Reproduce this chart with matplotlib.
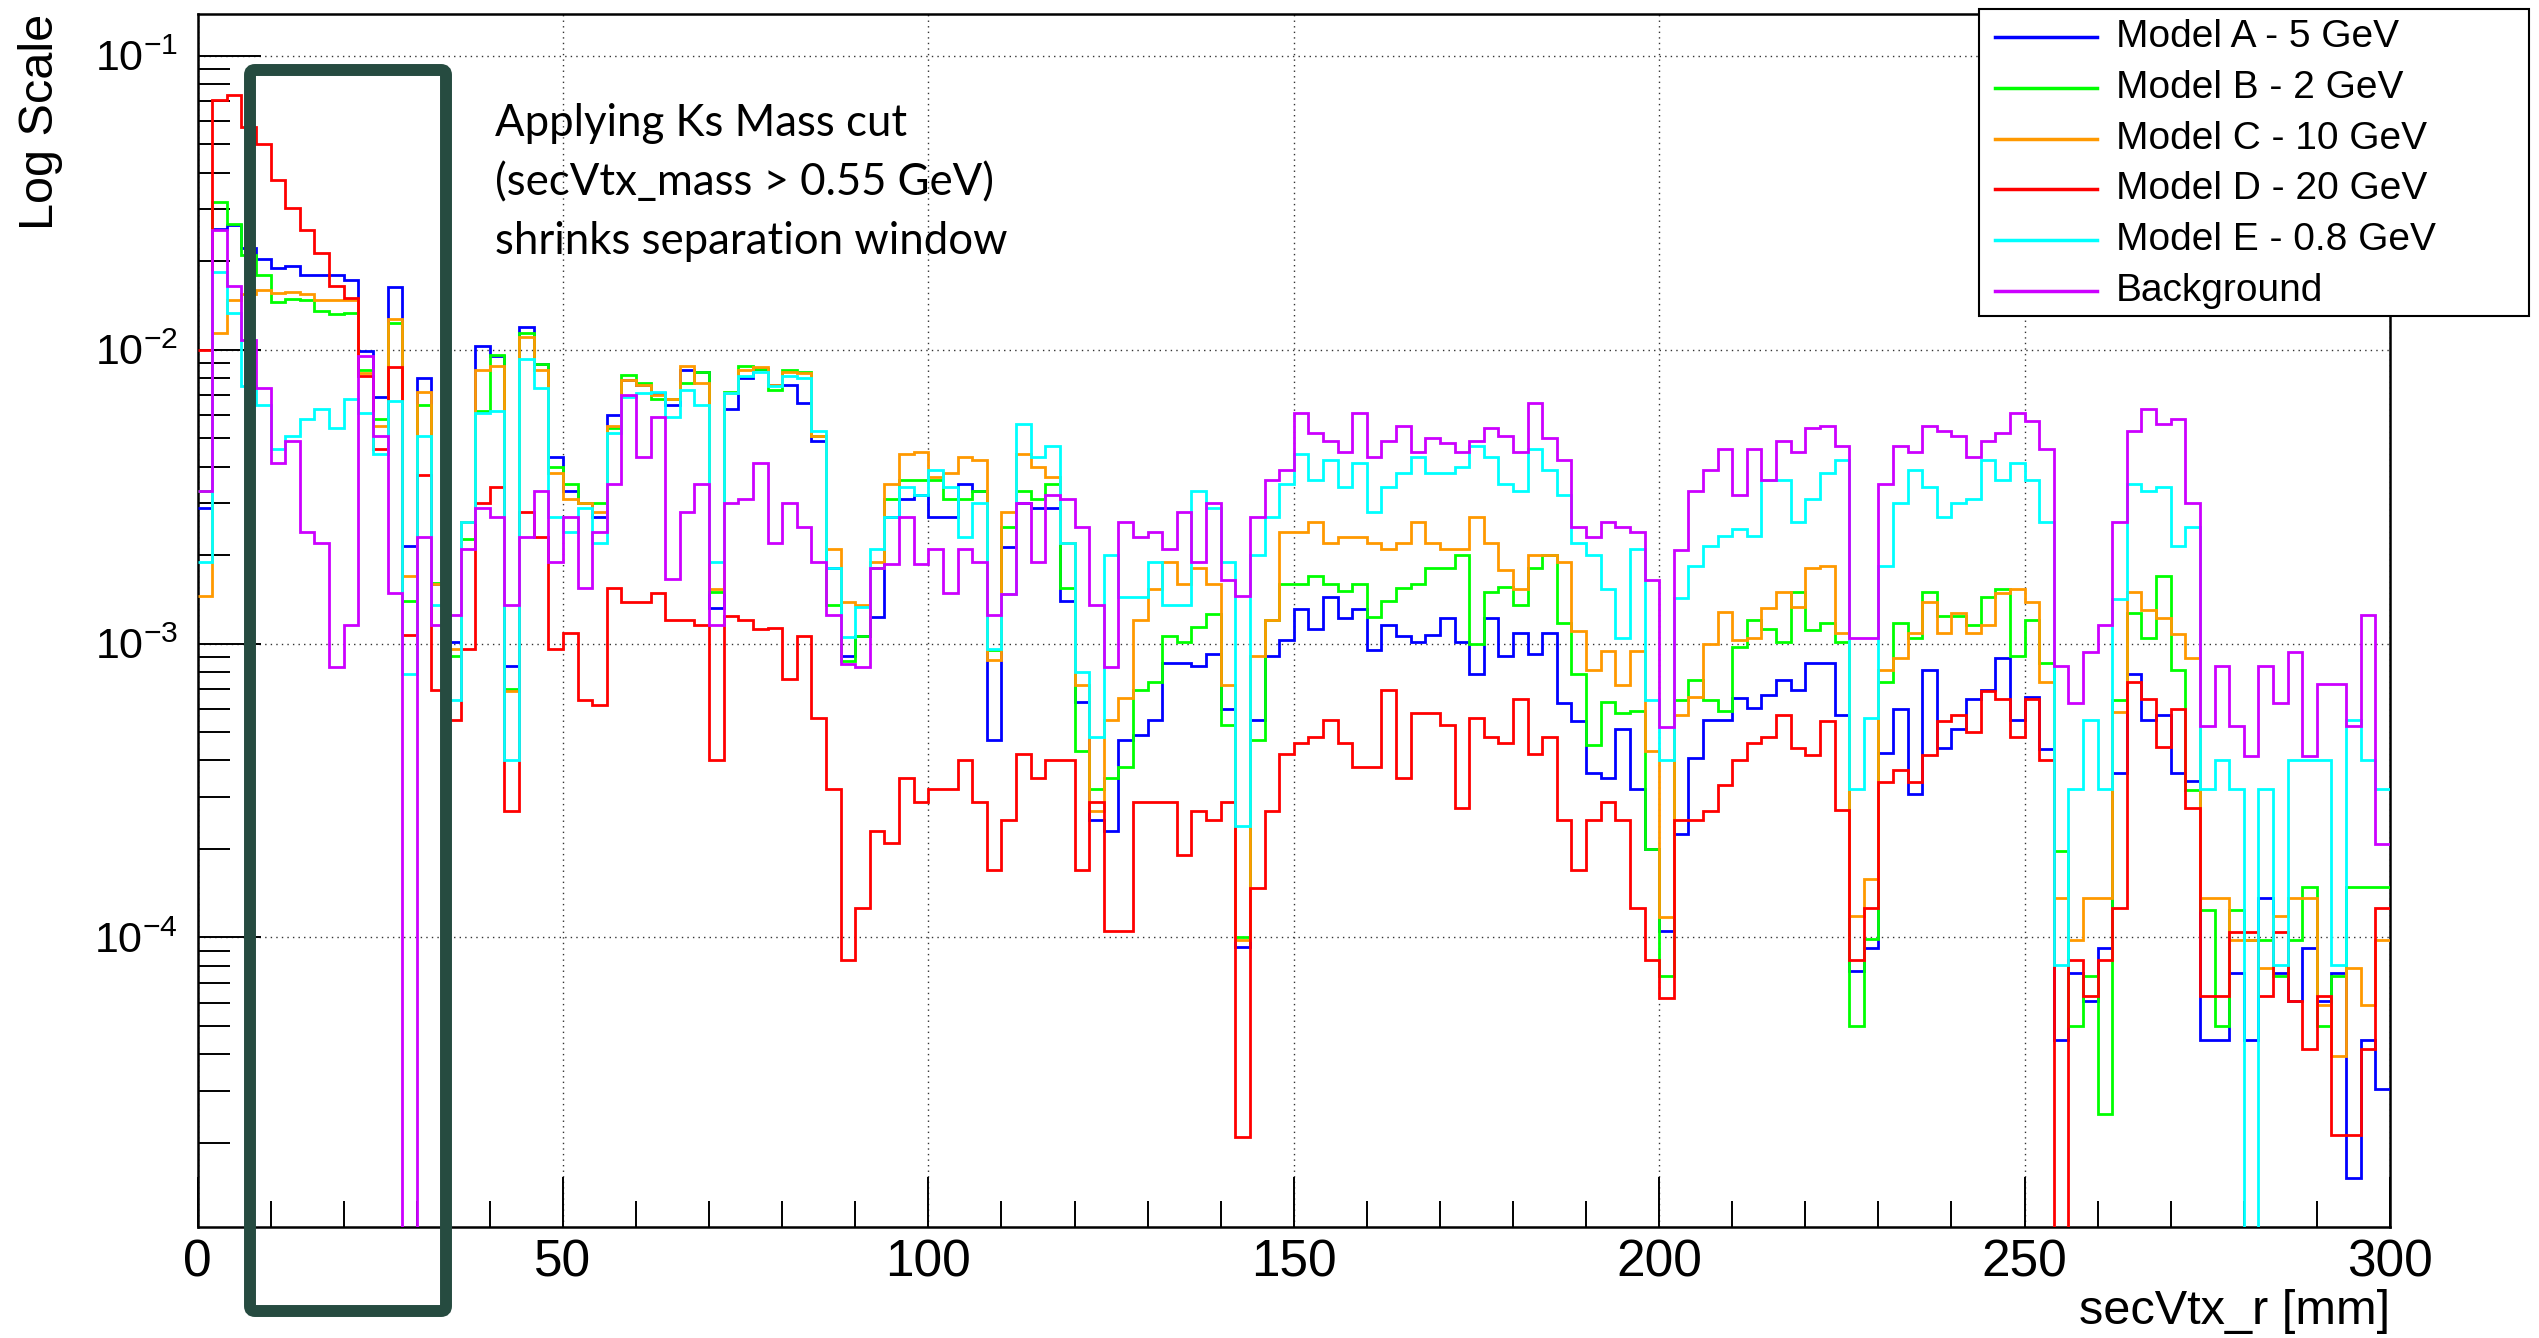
import numpy as np
import matplotlib
matplotlib.use('Agg')
import matplotlib.pyplot as plt
from matplotlib.ticker import MultipleLocator, LogLocator, NullFormatter
from matplotlib.patches import FancyBboxPatch, Rectangle
from matplotlib.lines import Line2D

plt.rcParams['font.family'] = ['Liberation Sans', 'DejaVu Sans']

# 150 bins of 2 mm, 0 - 300 mm
bin_edges = np.arange(0, 302, 2)

model_a = [
    2.9e-3, 0.0258, 0.0265, 0.0222, 0.0203, 0.0190, 0.0193, 0.0179, 0.0179, 0.0179,
    0.0173, 0.0099, 0.0069, 0.0163, 0.00214, 0.0080, 0.0016, 0.00101, 0.0026, 0.0103,
    0.0095, 8.4e-4, 0.0119, 0.0089, 0.0043, 0.0033, 0.0030, 0.0027, 0.0060, 0.0079,
    0.0076, 0.0071, 0.0065, 0.0085, 0.0084, 0.00132, 0.0063, 0.0080, 0.0086, 0.0076,
    0.0076, 0.0066, 0.0049, 0.0018, 9.1e-4, 0.00106, 0.00123, 0.0027, 0.0031, 0.0032,
    0.0027, 0.0027, 0.0035, 0.0033, 4.7e-4, 0.00213, 0.0030, 0.0029, 0.0029, 0.0014,
    6.3e-4, 2.5e-4, 2.3e-4, 4.7e-4, 4.9e-4, 5.5e-4, 8.6e-4, 8.6e-4, 8.4e-4, 9.2e-4,
    6.0e-4, 9.3e-5, 5.5e-4, 9.1e-4, 0.00103, 0.00131, 0.00112, 0.00144, 0.00122, 0.00131,
    9.5e-4, 0.00116, 0.00106, 0.00101, 0.00107, 0.00122, 0.00101, 7.9e-4, 0.00122, 9.1e-4,
    0.00109, 9.2e-4, 0.00109, 6.25e-4, 5.46e-4, 3.63e-4, 3.48e-4, 5.13e-4, 3.2e-4, 2.0e-4,
    1.05e-4, 2.25e-4, 4.07e-4, 5.5e-4, 5.5e-4, 6.5e-4, 6.05e-4, 6.7e-4, 7.5e-4, 6.95e-4,
    8.6e-4, 8.6e-4, 5.7e-4, 7.7e-5, 9.2e-5, 4.24e-4, 5.98e-4, 3.07e-4, 8.1e-4, 4.4e-4,
    5.13e-4, 6.45e-4, 6.95e-4, 8.9e-4, 5.5e-4, 6.6e-4, 4.37e-4, 4.48e-5, 7.57e-5, 6.07e-5,
    9.2e-5, 3.63e-4, 7.9e-4, 5.5e-4, 5.7e-4, 3.63e-4, 3.4e-4, 4.48e-5, 4.48e-5, 7.57e-5,
    4.48e-5, 1.36e-4, 7.57e-5, 6.07e-5, 9.2e-5, 6.07e-5, 7.57e-5, 1.52e-5, 4.48e-5, 3.04e-5,
]

model_b = [
    3.3e-3, 0.0318, 0.0267, 0.0209, 0.0179, 0.0145, 0.0149, 0.0148, 0.0135, 0.0132,
    0.0133, 0.0085, 0.0058, 0.0123, 0.0014, 0.0065, 0.00161, 9.1e-4, 0.00226, 0.0062,
    0.0096, 7.0e-4, 0.0114, 0.0089, 0.0040, 0.0035, 0.0030, 0.0030, 0.0054, 0.0082,
    0.0077, 0.0068, 0.0068, 0.0077, 0.0084, 0.0015, 0.0072, 0.0088, 0.0086, 0.0073,
    0.0085, 0.0084, 0.0051, 0.00135, 8.7e-4, 0.00106, 0.00181, 0.0031, 0.0036, 0.0036,
    0.0036, 0.0031, 0.0031, 0.0033, 9.5e-4, 0.0025, 0.0033, 0.0031, 0.0035, 0.00155,
    4.3e-4, 3.2e-4, 3.5e-4, 3.8e-4, 6.95e-4, 7.4e-4, 0.00106, 0.00101, 0.00114, 0.00126,
    5.3e-4, 1.0e-4, 4.7e-4, 0.0012, 0.0016, 0.0016, 0.0017, 0.0016, 0.00151, 0.0016,
    0.00123, 0.0014, 0.00155, 0.0016, 0.0018, 0.0018, 0.0020, 0.0010, 0.0015, 0.00156,
    0.00135, 0.0018, 0.0020, 0.00117, 7.9e-4, 4.5e-4, 6.3e-4, 5.8e-4, 5.9e-4, 2.0e-4,
    7.4e-5, 6.4e-4, 7.5e-4, 6.4e-4, 5.9e-4, 9.7e-4, 1.2e-3, 1.12e-3, 0.00101, 0.0015,
    0.00111, 0.00117, 0.00101, 4.98e-5, 9.9e-5, 7.4e-4, 0.00117, 0.00104, 0.0015, 0.00124,
    0.00124, 0.00116, 0.00144, 0.00153, 9.06e-4, 0.0012, 8.6e-4, 1.97e-4, 4.98e-5, 7.4e-5,
    2.5e-5, 6.4e-4, 0.00127, 0.00104, 0.0017, 8.1e-4, 3.17e-4, 1.24e-4, 4.98e-5, 1.24e-4,
    9.8e-5, 9.8e-5, 7.4e-5, 9.8e-5, 1.49e-4, 4.98e-5, 7.4e-5, 1.49e-4, 1.49e-4, 1.49e-4,
]

model_c = [
    1.45e-3, 0.0114, 0.0148, 0.0155, 0.0159, 0.0156, 0.0157, 0.0155, 0.0148, 0.0148,
    0.0147, 0.0083, 0.0055, 0.0127, 0.0017, 0.0072, 0.0016, 9.6e-4, 0.0026, 0.0085,
    0.0088, 6.9e-4, 0.0110, 0.0085, 0.0038, 0.0031, 0.0030, 0.0028, 0.0055, 0.0079,
    0.0076, 0.0070, 0.0068, 0.0088, 0.0077, 0.00153, 0.0071, 0.0085, 0.0087, 0.0076,
    0.0084, 0.0083, 0.0051, 0.0021, 0.00138, 0.00135, 0.0019, 0.0035, 0.0044, 0.0045,
    0.0037, 0.0038, 0.0043, 0.0042, 8.8e-4, 0.0028, 0.0044, 0.0040, 0.0037, 0.0022,
    7.2e-4, 2.7e-4, 5.5e-4, 6.5e-4, 0.0012, 0.00153, 0.0019, 0.0016, 0.0018, 0.0016,
    7.2e-4, 9.8e-5, 9.1e-4, 0.0012, 0.0024, 0.0024, 0.0026, 0.0022, 0.0023, 0.0023,
    0.0022, 0.0021, 0.0022, 0.0026, 0.0022, 0.0021, 0.0021, 0.0027, 0.0022, 0.00178,
    0.00153, 0.0020, 0.0020, 0.0019, 0.0011, 8.1e-4, 9.4e-4, 7.2e-4, 9.4e-4, 4.3e-4,
    1.17e-4, 5.7e-4, 6.6e-4, 1.0e-3, 1.28e-3, 1.03e-3, 1.04e-3, 1.32e-3, 0.0015, 0.00133,
    0.00181, 0.00184, 0.00109, 1.18e-4, 1.58e-4, 8.1e-4, 8.9e-4, 0.00109, 0.00138, 0.00109,
    0.00127, 0.00109, 0.00116, 0.00149, 0.00153, 0.00138, 7.4e-4, 1.36e-4, 9.8e-5, 1.36e-4,
    1.36e-4, 5.87e-4, 0.0015, 0.0013, 0.00122, 0.00108, 8.9e-4, 1.36e-4, 1.36e-4, 9.8e-5,
    9.8e-5, 7.9e-5, 1.18e-4, 1.36e-4, 1.36e-4, 5.9e-5, 3.94e-5, 7.9e-5, 5.9e-5, 9.8e-5,
]

model_d = [
    0.0100, 0.0706, 0.0734, 0.0572, 0.0499, 0.0378, 0.0303, 0.0255, 0.0213, 0.0164,
    0.0150, 0.0081, 0.0046, 0.0087, 0.00107, 0.00375, 6.95e-4, 5.5e-4, 9.6e-4, 0.0030,
    0.0034, 2.7e-4, 0.0028, 0.0023, 9.6e-4, 0.00109, 6.4e-4, 6.2e-4, 0.00155, 0.00138,
    0.00138, 0.00149, 0.0012, 0.0012, 0.00116, 4.0e-4, 0.00124, 0.0012, 0.00112, 0.00113,
    7.6e-4, 0.00106, 5.6e-4, 3.2e-4, 8.4e-5, 1.26e-4, 2.3e-4, 2.1e-4, 3.5e-4, 2.9e-4,
    3.2e-4, 3.2e-4, 4.0e-4, 2.9e-4, 1.7e-4, 2.5e-4, 4.2e-4, 3.5e-4, 4.0e-4, 4.0e-4,
    1.7e-4, 2.9e-4, 1.05e-4, 1.05e-4, 2.9e-4, 2.9e-4, 2.9e-4, 1.9e-4, 2.7e-4, 2.5e-4,
    2.9e-4, 2.1e-5, 1.47e-4, 2.7e-4, 4.2e-4, 4.6e-4, 4.8e-4, 5.5e-4, 4.6e-4, 3.8e-4,
    3.8e-4, 6.95e-4, 3.5e-4, 5.8e-4, 5.8e-4, 5.3e-4, 2.75e-4, 5.6e-4, 4.8e-4, 4.6e-4,
    6.45e-4, 4.2e-4, 4.8e-4, 2.5e-4, 1.7e-4, 2.5e-4, 2.9e-4, 2.5e-4, 1.26e-4, 8.4e-5,
    6.2e-5, 2.5e-4, 2.5e-4, 2.7e-4, 3.3e-4, 4.0e-4, 4.6e-4, 4.8e-4, 5.7e-4, 4.4e-4,
    4.18e-4, 5.46e-4, 2.72e-4, 8.4e-5, 1.26e-4, 3.38e-4, 3.7e-4, 3.38e-4, 4.18e-4, 5.46e-4,
    5.7e-4, 5.0e-4, 6.9e-4, 6.45e-4, 4.8e-4, 6.45e-4, 4.0e-4, 0.0, 8.4e-5, 6.3e-5,
    8.4e-5, 1.26e-4, 7.4e-4, 6.45e-4, 4.46e-4, 6.0e-4, 2.75e-4, 6.3e-5, 6.3e-5, 1.04e-4,
    1.04e-4, 6.3e-5, 1.04e-4, 6.07e-5, 4.18e-5, 6.3e-5, 2.13e-5, 2.13e-5, 4.18e-5, 1.26e-4,
]

model_e = [
    1.9e-3, 0.0183, 0.0133, 0.0075, 0.0065, 0.0046, 0.0051, 0.0058, 0.0063, 0.0054,
    0.0068, 0.0061, 0.0044, 0.0067, 7.9e-4, 0.0051, 0.00135, 6.4e-4, 0.0026, 0.0061,
    0.0062, 4.0e-4, 0.0093, 0.0074, 0.0027, 0.0024, 0.0029, 0.0022, 0.0052, 0.0069,
    0.0071, 0.0072, 0.0059, 0.0073, 0.0065, 0.0019, 0.0071, 0.0081, 0.0084, 0.0075,
    0.0081, 0.0080, 0.0053, 0.0018, 0.00105, 0.00133, 0.0021, 0.0027, 0.0034, 0.0032,
    0.0039, 0.0034, 0.0023, 0.0030, 9.6e-4, 0.00147, 0.0056, 0.0043, 0.0047, 0.0022,
    8.0e-4, 4.8e-4, 0.0020, 0.00144, 0.00144, 0.0019, 0.00135, 0.00135, 0.0033, 0.0029,
    0.0019, 2.4e-4, 0.0020, 0.0027, 0.0035, 0.0044, 0.0036, 0.0042, 0.0034, 0.0041,
    0.0028, 0.0034, 0.0038, 0.0043, 0.0038, 0.0038, 0.0040, 0.0047, 0.0043, 0.0035,
    0.0033, 0.0046, 0.0039, 0.0032, 0.0022, 0.0020, 0.00153, 0.00104, 0.0021, 6.4e-4,
    4.0e-4, 1.43e-3, 1.84e-3, 0.00215, 0.00232, 0.00245, 0.00232, 0.0036, 0.0036, 0.0026,
    0.0031, 0.0038, 0.0042, 3.21e-4, 5.6e-4, 0.00184, 0.0030, 0.0039, 0.0034, 0.0027,
    0.0030, 0.0031, 0.0042, 0.0036, 0.0041, 0.0036, 0.0026, 8.05e-5, 3.21e-4, 5.5e-4,
    3.21e-4, 0.00142, 0.0035, 0.0033, 0.0034, 0.00215, 0.0025, 3.2e-4, 4.0e-4, 3.2e-4,
    0.0, 3.2e-4, 8.05e-5, 4.0e-4, 4.0e-4, 4.0e-4, 8.05e-5, 5.5e-4, 4.0e-4, 3.2e-4,
]

background = [
    3.3e-3, 0.0255, 0.0164, 0.0108, 0.0074, 0.0041, 0.0049, 0.0024, 0.0022, 8.3e-4,
    0.00116, 0.0095, 0.0051, 0.00148, 0.0, 0.0023, 0.00116, 0.00125, 0.0021, 0.0029,
    0.0027, 0.00135, 0.0023, 0.0033, 0.0019, 0.0027, 0.00155, 0.0024, 0.0035, 0.0070,
    0.0043, 0.0059, 0.00166, 0.0028, 0.0035, 0.00116, 0.0030, 0.0031, 0.0041, 0.0022,
    0.0030, 0.0025, 0.0019, 0.00125, 8.5e-4, 8.3e-4, 0.0018, 0.00186, 0.0027, 0.00186,
    0.0021, 0.00148, 0.0021, 0.0019, 0.00125, 0.00147, 0.0030, 0.0019, 0.0032, 0.0031,
    0.0025, 0.00135, 8.3e-4, 0.0026, 0.0023, 0.0024, 0.0021, 0.0028, 0.0019, 0.0030,
    0.00165, 0.00145, 0.0027, 0.0036, 0.0039, 0.0061, 0.0052, 0.0049, 0.0045, 0.0061,
    0.0043, 0.0049, 0.0055, 0.0045, 0.0050, 0.0048, 0.0045, 0.0049, 0.0054, 0.0051,
    0.0045, 0.0066, 0.0050, 0.0042, 0.0025, 0.0023, 0.0026, 0.0025, 0.0024, 0.00165,
    5.2e-4, 0.00208, 0.0033, 0.0039, 0.0046, 0.0032, 0.0046, 0.0036, 0.0049, 0.0045,
    0.0054, 0.0055, 0.0047, 0.00104, 0.00104, 0.0035, 0.0047, 0.0045, 0.0055, 0.0053,
    0.0051, 0.0043, 0.0049, 0.0052, 0.0061, 0.0057, 0.0046, 8.4e-4, 6.25e-4, 9.35e-4,
    0.00116, 0.0026, 0.0053, 0.0063, 0.0056, 0.0058, 0.0030, 5.26e-4, 8.4e-4, 5.26e-4,
    4.15e-4, 8.4e-4, 6.25e-4, 9.35e-4, 4.15e-4, 7.3e-4, 7.3e-4, 5.26e-4, 0.00125, 2.08e-4,
]

labels = ['Model A - 5 GeV', 'Model B - 2 GeV', 'Model C - 10 GeV',
          'Model D - 20 GeV', 'Model E - 0.8 GeV', 'Background']
colors = ['#0000ff', '#00ff00', '#ff9900', '#ff0000', '#00ffff', '#cc00ff']
series = [model_a, model_b, model_c, model_d, model_e, background]

W, H = 2539, 1338
fig = plt.figure(figsize=(W / 100, H / 100), dpi=100)
ax = fig.add_axes([0.0778, 0.0830, 0.8635, 0.9066])

for vals, color in zip(series, colors):
    ax.stairs(vals, bin_edges, baseline=None, color=color, linewidth=2.0, zorder=3)

ax.set_yscale('log')
ax.set_xlim(0, 300)
ax.set_ylim(1.035e-5, 0.1387)

ax.xaxis.set_major_locator(MultipleLocator(50))
ax.xaxis.set_minor_locator(MultipleLocator(10))
ax.yaxis.set_major_locator(LogLocator(base=10, numticks=12))
ax.yaxis.set_minor_locator(LogLocator(base=10, subs=np.arange(2, 10), numticks=40))
ax.yaxis.set_minor_formatter(NullFormatter())

ax.tick_params(axis='x', which='major', direction='in', length=36, width=1.4, labelsize=37, pad=8)
ax.tick_params(axis='x', which='minor', direction='in', length=19, width=1.4)
ax.tick_params(axis='y', which='major', direction='in', length=45, width=1.4, labelsize=31, pad=14)
ax.tick_params(axis='y', which='minor', direction='in', length=23, width=1.4)
ax.tick_params(which='both', top=False, right=False)

ax.set_axisbelow(True)
ax.grid(True, which='major', linestyle=(0, (1, 3)), color='#333333', linewidth=1.0)
for sp in ax.spines.values():
    sp.set_linewidth(1.8)

ax.set_xlabel('secVtx_r [mm]', fontsize=35, loc='right', va='center')
ax.xaxis.set_label_coords(1.0, -0.0700)
ax.set_ylabel('Log Scale', fontsize=35, loc='top', va='center')
ax.yaxis.set_label_coords(-0.0718, 1.0)

# highlight box around the first bins
box = FancyBboxPatch((2.50, 0.27), 1.96, 12.41, boxstyle='round,pad=0,rounding_size=0.05',
                     transform=fig.dpi_scale_trans, fill=False, edgecolor='#264b40',
                     linewidth=8.6, zorder=5)
fig.add_artist(box)

note = ['Applying Ks Mass cut', '(secVtx_mass > 0.55 GeV)', 'shrinks separation window']
for i, line in enumerate(note):
    fig.text(495 / W, 1 - (124 + 58.5 * i) / H, line, fontsize=31.5, family=['Lato', 'DejaVu Sans'],
             ha='left', va='center')

# legend box (drawn by hand to match the ROOT layout)
fig.add_artist(Rectangle((1979 / W, 1 - 316 / H), 550 / W, 307 / H, transform=fig.transFigure,
                         facecolor='white', edgecolor='black', linewidth=1.5, zorder=6))
for i, (lab, color) in enumerate(zip(labels, colors)):
    yy = 1 - (37 + 50.8 * i) / H
    fig.add_artist(Line2D([1995 / W, 2097 / W], [yy, yy], transform=fig.transFigure,
                          color=color, linewidth=2.5, zorder=7))
    fig.text(2116 / W, yy, lab, fontsize=28, ha='left', va='center', zorder=7)

fig.savefig('out.png', dpi=100)
